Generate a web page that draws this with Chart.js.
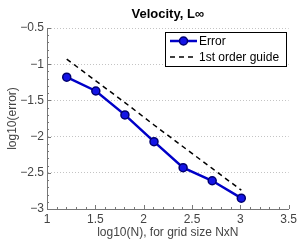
<!DOCTYPE html>
<html>
<head>
<meta charset="utf-8">
<script src="https://cdn.jsdelivr.net/npm/chart.js@4"></script>
<style>
  html, body { margin: 0; padding: 0; background: #fff; }
</style>
</head>
<body>
<canvas id="myChart" width="300" height="243"></canvas>
<script>
// log10(N) for N = 16 .. 1024
const logN = [1.204, 1.505, 1.806, 2.107, 2.408, 2.709, 3.010]
const errorVals = [-1.18, -1.37, -1.70, -2.07, -2.43, -2.61, -2.85]
const guideVals = [-0.93, -1.23, -1.53, -1.84, -2.14, -2.44, -2.74]
const xTicks = [1, 1.5, 2, 2.5, 3, 3.5]
const yTicks = [-0.5, -1, -1.5, -2, -2.5, -3]
const titleText = 'Velocity, L\u221e'

const FONT = "'Liberation Sans', 'DejaVu Sans', sans-serif"
const minus = v => String(v).replace('-', '\u2212')

// inward major + minor ticks, drawn from the scales
const tickMarks = {
  id: 'tickMarks',
  afterDatasetsDraw(chart) {
    const ctx = chart.ctx
    const x = chart.scales.x, y = chart.scales.y
    const a = chart.chartArea
    ctx.save()
    ctx.strokeStyle = '#777'
    ctx.lineWidth = 1
    ctx.beginPath()
    for (let i = 0; i <= 25; i++) {
      const v = 1 + i * 0.1
      const px = Math.round(x.getPixelForValue(v)) + 0.5
      const len = i % 5 === 0 ? 4 : 2
      ctx.moveTo(px, a.bottom); ctx.lineTo(px, a.bottom - len)
    }
    for (let i = 0; i <= 25; i++) {
      const v = -3 + i * 0.1
      const py = Math.round(y.getPixelForValue(v)) + 0.5
      const len = i % 5 === 0 ? 4 : 2
      ctx.moveTo(a.left, py); ctx.lineTo(a.left + len, py)
    }
    ctx.stroke()
    ctx.restore()
  }
}

// title centred over the plot area, plus boxed legend top right
const boxLegend = {
  id: 'boxLegend',
  afterDraw(chart) {
    const ctx = chart.ctx
    const a = chart.chartArea
    const ds = chart.data.datasets
    ctx.save()
    ctx.fillStyle = '#000'
    ctx.font = 'bold 13px ' + FONT
    ctx.textAlign = 'center'
    ctx.textBaseline = 'middle'
    ctx.fillText(titleText, (a.left + a.right) / 2, 14)

    const bx = 165, by = 32, bw = 121, bh = 34
    ctx.textAlign = 'left'
    ctx.fillStyle = '#fff'
    ctx.fillRect(bx, by, bw, bh)
    ctx.strokeStyle = '#000'
    ctx.lineWidth = 1
    ctx.strokeRect(bx + 0.5, by + 0.5, bw, bh)
    ctx.font = '12px ' + FONT
    ds.forEach((d, i) => {
      const ly = by + 9 + i * 16
      ctx.strokeStyle = d.borderColor
      ctx.lineWidth = d.borderWidth
      ctx.setLineDash(d.borderDash || [])
      ctx.beginPath()
      ctx.moveTo(bx + 5, ly); ctx.lineTo(bx + 32, ly)
      ctx.stroke()
      ctx.setLineDash([])
      if (d.pointRadius > 0) {
        ctx.beginPath()
        ctx.arc(bx + 18.5, ly, d.pointRadius, 0, Math.PI * 2)
        ctx.fillStyle = d.pointBackgroundColor
        ctx.fill()
        ctx.lineWidth = d.pointBorderWidth
        ctx.strokeStyle = d.pointBorderColor
        ctx.stroke()
      }
      ctx.fillStyle = '#000'
      ctx.fillText(d.label, bx + 34, ly + 0.5)
    })
    ctx.restore()
  }
}

const data = {
  datasets: [{
    label: 'Error',
    data: logN.map((v, i) => ({ x: v, y: errorVals[i] })),
    borderColor: '#0000c8',
    borderWidth: 2.5,
    pointRadius: 4,
    pointBackgroundColor: '#1414e6',
    pointBorderColor: '#000070',
    pointBorderWidth: 1.5,
    tension: 0
  }, {
    label: '1st order guide',
    data: logN.map((v, i) => ({ x: v, y: guideVals[i] })),
    borderColor: '#000',
    borderWidth: 1.5,
    borderDash: [5, 4],
    pointRadius: 0,
    tension: 0
  }]
}

const config = {
  type: 'line',
  data: data,
  plugins: [tickMarks, boxLegend],
  options: {
    responsive: false,
    animation: false,
    layout: { padding: { right: 11, left: 0, bottom: 0, top: 28 } },
    plugins: {
      legend: { display: false },
      tooltip: { enabled: false },
      title: { display: false }
    },
    scales: {
      x: {
        type: 'linear',
        min: 1, max: 3.5,
        afterBuildTicks: s => { s.ticks = xTicks.map(v => ({ value: v })) },
        afterFit: s => { s.height = 34 },
        ticks: {
          color: '#444',
          font: { family: FONT, size: 12 },
          padding: 3,
          maxRotation: 0,
          callback: v => minus(v)
        },
        grid: { display: false, drawTicks: false },
        border: { display: true, color: '#777' },
        title: {
          display: true,
          text: 'log10(N), for grid size NxN',
          color: '#444',
          font: { family: FONT, size: 12 },
          padding: { top: 0, bottom: 3 }
        }
      },
      y: {
        type: 'linear',
        min: -3, max: -0.5,
        afterBuildTicks: s => { s.ticks = yTicks.map(v => ({ value: v })) },
        afterFit: s => { s.width = 47 },
        ticks: {
          color: '#444',
          font: { family: FONT, size: 12 },
          padding: 3,
          callback: v => minus(v)
        },
        grid: {
          drawTicks: false,
          color: '#c4c4c4',
          lineWidth: 1
        },
        border: { display: true, color: '#777', dash: [1, 2] },
        title: {
          display: true,
          text: 'log10(error)',
          color: '#444',
          font: { family: FONT, size: 12 },
          padding: { top: 5, bottom: 0 }
        }
      }
    }
  }
}

const myChart = new Chart(document.getElementById('myChart'), config)
</script>
</body>
</html>
